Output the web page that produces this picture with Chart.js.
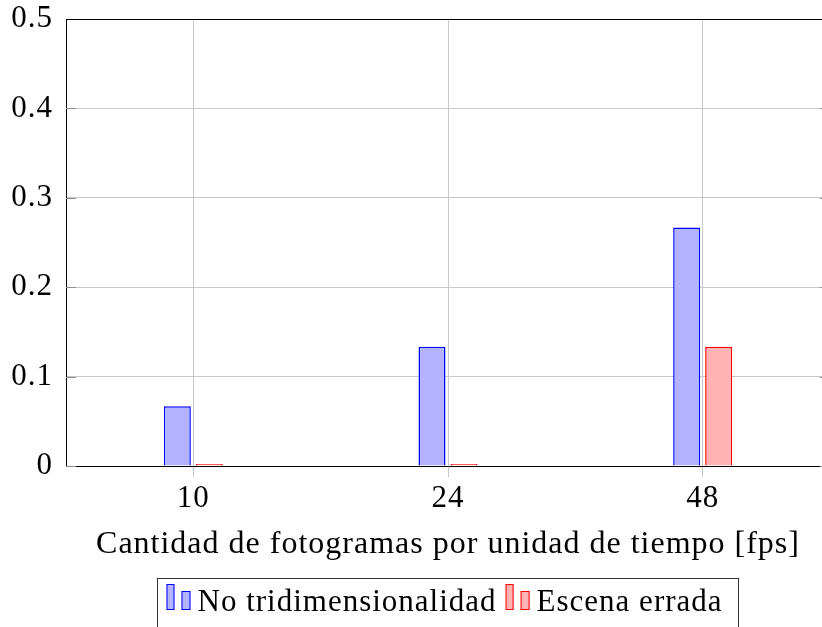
<!DOCTYPE html>
<html>
<head>
<meta charset="utf-8">
<script src="https://cdn.jsdelivr.net/npm/chart.js@4/dist/chart.umd.min.js"></script>
<style>
  html, body { margin: 0; padding: 0; overflow: hidden; background: #fff; }
  #wrap { width: 822px; height: 627px; overflow: hidden; position: relative; }
  canvas { display: block; }
</style>
</head>
<body>
<div id="wrap"><canvas id="c" width="850" height="627"></canvas></div>
<script>
// Frame rates compared (symbolic x positions 0, 1, 2)
const categories = ['10', '24', '48'];
const seriesNames = ['No tridimensionalidad', 'Escena errada'];
const noTridimensionalidad = [0.0667, 0.1333, 0.2667];
const escenaErrada = [0, 0, 0.1333];
const yTicks = [0, 0.1, 0.2, 0.3, 0.4, 0.5];
const xTitle = 'Cantidad de fotogramas por unidad de tiempo [fps]';

const FONT = '"Liberation Serif", "Times New Roman", serif';
const FONT_SIZE = 31;

const toPoints = vals => vals.map((v, i) => ({ x: i, y: v }));

// Slightly wider text set for all labels
const textPlugin = {
  id: 'textSpacing',
  beforeDraw(chart) {
    if ('letterSpacing' in chart.ctx) chart.ctx.letterSpacing = '1px';
  }
};

// Top and right sides of the plot frame plus short inner tick marks on the y axis
const framePlugin = {
  id: 'frame',
  beforeDatasetsDraw(chart) {
    const { ctx, chartArea: a, scales } = chart;
    ctx.save();
    ctx.strokeStyle = '#8c8c8c';
    ctx.lineWidth = 1;
    scales.y.ticks.forEach(t => {
      const py = Math.round(scales.y.getPixelForValue(t.value)) + 0.5;
      ctx.beginPath();
      ctx.moveTo(a.left, py); ctx.lineTo(a.left + 10, py);
      ctx.moveTo(a.right, py); ctx.lineTo(a.right - 10, py);
      ctx.stroke();
    });
    ctx.strokeStyle = '#000';
    ctx.beginPath();
    const top = Math.round(a.top) + 0.5;
    const right = Math.round(a.right) + 0.5;
    ctx.moveTo(a.left, top); ctx.lineTo(right, top); ctx.lineTo(right, a.bottom);
    ctx.stroke();
    ctx.restore();
  }
};

// Boxed legend below the axis title, each entry shown as two small bars
const boxLegendPlugin = {
  id: 'boxLegend',
  afterDraw(chart) {
    const { ctx, chartArea: a } = chart;
    ctx.save();
    ctx.font = FONT_SIZE + 'px ' + FONT;
    const items = chart.data.datasets.map(ds => ({
      label: ds.label, fill: ds.backgroundColor, stroke: ds.borderColor,
      w: ctx.measureText(ds.label).width
    }));
    const iconW = 24, iconGap = 7, itemGap = 9, padL = 9, padR = 16;
    let total = padL + padR + itemGap * (items.length - 1);
    items.forEach(it => { total += iconW + iconGap + it.w; });
    const cx = (a.left + a.right) / 2;
    const left = Math.round(cx - total / 2) + 0.5;
    const top = 578.5;
    ctx.strokeStyle = '#333';
    ctx.lineWidth = 1;
    ctx.strokeRect(left, top, Math.round(total), 120);
    const base = 610;
    let x = left + padL;
    ctx.textBaseline = 'alphabetic';
    ctx.textAlign = 'left';
    items.forEach(it => {
      const bars = [[0, 8, 26], [15, 9, 19]];
      bars.forEach(([dx, bw, bh]) => {
        ctx.fillStyle = it.fill;
        ctx.fillRect(x + dx, base - bh, bw, bh);
        ctx.strokeStyle = it.stroke;
        ctx.strokeRect(x + dx + 0.5, base - bh + 0.5, bw - 1, bh - 1);
      });
      x += iconW + iconGap;
      ctx.fillStyle = '#000';
      ctx.fillText(it.label, x, base + 1);
      x += it.w + itemGap;
    });
    ctx.restore();
  }
};

new Chart(document.getElementById('c'), {
  type: 'bar',
  data: {
    datasets: [
      {
        label: seriesNames[0],
        data: toPoints(noTridimensionalidad),
        backgroundColor: 'rgb(179,179,255)',
        borderColor: 'rgb(0,0,255)',
        borderWidth: 1.5,
        minBarLength: 2
      },
      {
        label: seriesNames[1],
        data: toPoints(escenaErrada),
        backgroundColor: 'rgb(255,179,179)',
        borderColor: 'rgb(255,0,0)',
        borderWidth: 1.5,
        minBarLength: 2
      }
    ]
  },
  options: {
    responsive: false,
    animation: false,
    devicePixelRatio: 1,
    categoryPercentage: 0.2513,
    barPercentage: 0.844,
    layout: { padding: { top: 19, right: 20, left: 0, bottom: 0 } },
    plugins: { legend: { display: false }, tooltip: { enabled: false } },
    scales: {
      x: {
        type: 'linear',
        offset: false,
        min: -0.5,
        max: 2.5,
        afterBuildTicks(scale) {
          scale.ticks = categories.map((c, i) => ({ value: i }));
        },
        afterFit(scale) {
          scale.height = 627 - 466;
          scale.paddingLeft = 0;
          scale.paddingRight = 0;
        },
        ticks: {
          callback: (v) => categories[v],
          font: { family: FONT, size: FONT_SIZE },
          color: '#000',
          padding: 3,
          maxRotation: 0,
          autoSkip: false
        },
        grid: {
          offset: false,
          color: '#c8c8c8',
          lineWidth: 1,
          drawTicks: true,
          tickLength: 11
        },
        border: { display: true, color: '#000', width: 1 },
        title: {
          display: true,
          text: xTitle,
          font: { family: FONT, size: 32 },
          color: '#000',
          padding: { top: 0, bottom: 63 }
        }
      },
      y: {
        type: 'linear',
        min: 0,
        max: 0.5,
        afterBuildTicks(scale) {
          scale.ticks = yTicks.map(v => ({ value: v }));
        },
        afterFit(scale) {
          scale.width = 66;
          scale.paddingTop = 0;
          scale.paddingBottom = 0;
        },
        ticks: {
          callback: (v) => (v === 0 ? '0' : v.toFixed(1)),
          font: { family: FONT, size: FONT_SIZE },
          color: '#000',
          padding: 13
        },
        grid: {
          color: '#c8c8c8',
          lineWidth: 1,
          drawTicks: false
        },
        border: { display: true, color: '#000', width: 1 }
      }
    }
  },
  plugins: [textPlugin, framePlugin, boxLegendPlugin]
});
</script>
</body>
</html>
